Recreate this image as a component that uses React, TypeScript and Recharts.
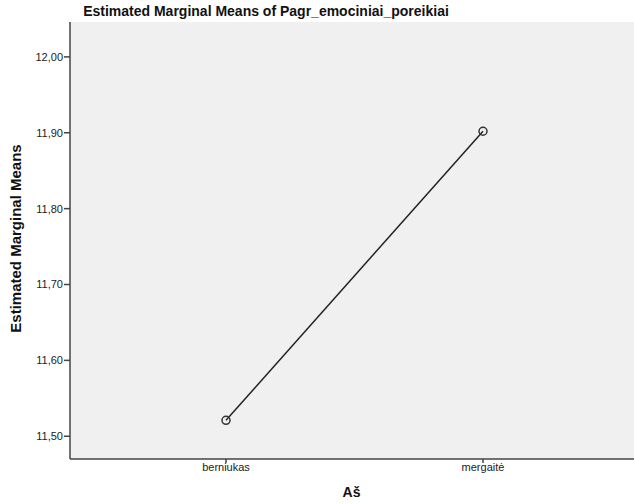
import React from "react";
import { LineChart, Line, XAxis, YAxis, CartesianGrid } from "recharts";

const groups = ["berniukas", "mergaitė"];
const means = [11.521, 11.902];
const yTicks = [11.5, 11.6, 11.7, 11.8, 11.9, 12.0];

const data = groups.map((g, i) => ({ group: g, mean: means[i] }));

const font = "'Liberation Sans', Arial, sans-serif";
const axisColor = "#444";

const fmt = (v: number) => v.toFixed(2).replace(".", ",");

export default function App() {
  return (
    <div
      style={{
        position: "fixed",
        left: 0,
        top: 0,
        width: 634,
        height: 504,
        overflow: "hidden",
        background: "#fff",
        fontFamily: font,
      }}
    >
      <div
        style={{
          position: "absolute",
          left: 0,
          width: 532,
          top: 3,
          textAlign: "center",
          fontWeight: "bold",
          fontSize: 14,
          color: "#111",
        }}
      >
        Estimated Marginal Means of Pagr_emociniai_poreikiai
      </div>
      <LineChart
        width={640}
        height={504}
        data={data}
        margin={{ top: 22, right: 1, bottom: 0, left: 0 }}
        style={{ position: "absolute", left: 0, top: 0 }}
      >
        <CartesianGrid fill="#f0f0f0" horizontal={false} vertical={false} />
        <XAxis
          dataKey="group"
          padding={{ left: 156, right: 156 }}
          stroke={axisColor}
          strokeWidth={1.5}
          tickSize={4}
          tickMargin={0}
          tick={{ fill: "#222", fontSize: 11, fontFamily: font }}
          label={{
            value: "Aš",
            position: "insideBottom",
            offset: 7,
            dx: -3,
            fill: "#111",
            fontWeight: "bold",
            fontSize: 14,
            fontFamily: font,
          }}
          height={45}
        />
        <XAxis
          xAxisId="top"
          orientation="top"
          dataKey="group"
          tick={false}
          tickLine={false}
          stroke={axisColor}
          strokeWidth={1.5}
          height={0}
        />
        <YAxis
          domain={[11.47, 12.046]}
          ticks={yTicks}
          tickFormatter={fmt}
          allowDataOverflow
          width={70}
          stroke={axisColor}
          strokeWidth={1.5}
          tickSize={6}
          tickMargin={1}
          tick={{ fill: "#222", fontSize: 11, fontFamily: font }}
          label={{
            value: "Estimated Marginal Means",
            angle: -90,
            position: "insideLeft",
            offset: 16,
            dy: -2,
            style: { textAnchor: "middle" },
            fill: "#111",
            fontWeight: "bold",
            fontSize: 15,
            fontFamily: font,
          }}
        />
        <Line
          type="linear"
          dataKey="mean"
          stroke="#222"
          strokeWidth={1.5}
          dot={{ r: 4, stroke: "#333", strokeWidth: 1.5, fill: "none" }}
          activeDot={false}
          isAnimationActive={false}
        />
      </LineChart>
    </div>
  );
}
